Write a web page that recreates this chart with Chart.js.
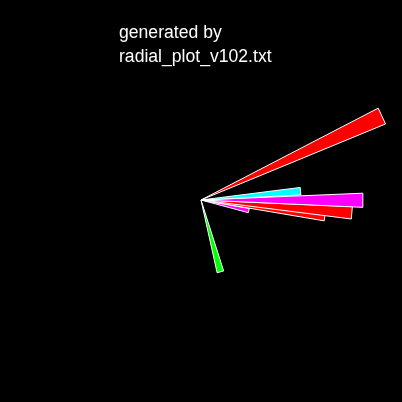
<!DOCTYPE html>
<html>
<head>
<meta charset="utf-8">
<script src="https://cdn.jsdelivr.net/npm/chart.js@4/dist/chart.umd.min.js"></script>
<style>
  html, body { margin: 0; padding: 0; background: #000; overflow: hidden; }
  #wrap { position: relative; width: 402px; height: 402px; background: #000; }
  .caption {
    position: absolute; left: 119px; top: 20px;
    font-family: "Liberation Sans", Arial, sans-serif; font-size: 17.6px;
    line-height: 24px; color: #fff; white-space: nowrap;
  }
</style>
</head>
<body>
<div id="wrap">
  <canvas id="radialChart"></canvas>
  <div class="caption">generated by<br>radial_plot_v102.txt</div>
</div>
<script>
// wedge edges in degrees, counter-clockwise from east
const wedgeLow = [22.4, 2.9, -2.6, -7.2, -9.6, -15.0, -77.5];
const wedgeHigh = [27.4, 7.2, 2.4, -2.5, -4.4, -10.0, -72.3];
// wedge lengths (radial value)
const wedgeLength = [199.6, 100, 162, 151.5, 125, 49, 74.5];
const wedgeColors = ['#ff0000', '#00ffff', '#ff00ff', '#ff0000', '#ff0000', '#ff00ff', '#00ff00'];

// each wedge is its own dataset: an empty arc to rotate to the start, then the wedge
const datasets = wedgeLength.map(function(len, i) {
    const offset = (360 - wedgeHigh[i]) % 360;
    return {
        data: [0, len],
        angle: [offset, wedgeHigh[i] - wedgeLow[i]],
        backgroundColor: ['rgba(0,0,0,0)', wedgeColors[i]],
        borderColor: ['rgba(0,0,0,0)', '#ffffff'],
        borderWidth: [0, 1]
    };
});

const ctx = document.getElementById('radialChart').getContext('2d');
new Chart(ctx, {
    type: 'polarArea',
    data: {
        labels: ['', ''],
        datasets: datasets
    },
    options: {
        responsive: true,
        maintainAspectRatio: false,
        animation: false,
        layout: { padding: { bottom: 2 } },
        elements: {
            arc: { circular: false, borderJoinStyle: 'miter' }
        },
        scales: {
            r: {
                min: 0,
                max: 200,
                startAngle: 90,
                display: false,
                ticks: { display: false }
            }
        },
        plugins: {
            legend: { display: false },
            tooltip: { enabled: false }
        }
    }
});
</script>
</body>
</html>
